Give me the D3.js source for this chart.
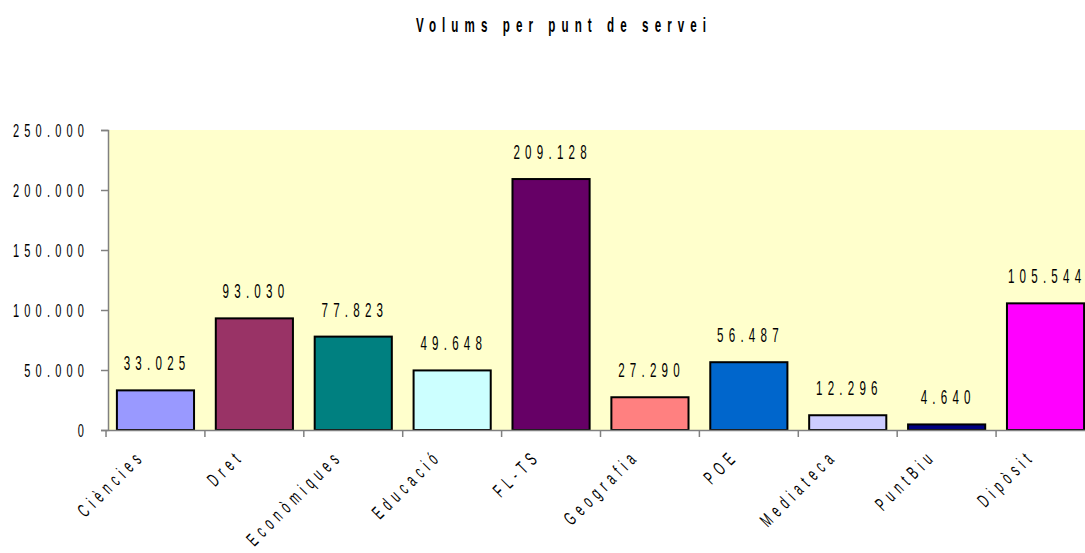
<!DOCTYPE html>
<html><head><meta charset="utf-8">
<script src="https://cdn.jsdelivr.net/npm/d3@7/dist/d3.min.js"></script>
<style>
html,body{margin:0;padding:0;background:#fff;}
text{font-family:"Liberation Sans",Arial,sans-serif;fill:#000;}
</style></head>
<body><svg id="chart" width="1085" height="553"></svg>
<script>
const categories = ["Ciències","Dret","Econòmiques","Educació","FL-TS","Geografia","POE","Mediateca","PuntBiu","Dipòsit"];
const values = [33025, 93030, 77823, 49648, 209128, 27290, 56487, 12296, 4640, 105544];
const colors = ["#9999FF","#993366","#008080","#CCFFFF","#660066","#FF8080","#0066CC","#CCCCFF","#000080","#FF00FF"];
const yTicks = [0, 50000, 100000, 150000, 200000, 250000];
const title = "Volums per punt de servei";

const svg = d3.select("#chart");
const W = 1085, H = 553;
const m = {left:108, top:130, bottom:123};
const x = d3.scaleBand().domain(categories).range([m.left, 1093]).paddingInner(0.22).paddingOuter(0.09);
const y = d3.scaleLinear().domain([0, 250000]).range([H - m.bottom, m.top]);
const loc = d3.formatLocale({decimal:",", thousands:".", grouping:[3], currency:["","€"]});
const fmt = loc.format(",d");

const SX = 0.58;
// squeezed, letter-spaced text helper
function sq(parent, px, py, str, anchor, size, rot, weight, ls) {
  ls = ls || 9;
  const trail = ls * SX;
  let dx = 0;
  if (anchor === "end") dx = trail;
  else if (anchor === "middle") dx = trail / 2;
  const g = parent.append("g").attr("transform", `translate(${px},${py}) rotate(${rot || 0})`);
  g.append("text").attr("transform", `translate(${dx},0) scale(${SX},1)`)
    .attr("text-anchor", anchor).attr("font-size", size).attr("letter-spacing", ls + "px")
    .attr("font-weight", weight || "normal").text(str);
  return g;
}

// plot background
svg.append("rect").attr("x", m.left).attr("y", y(250000)).attr("width", W - m.left).attr("height", y(0) - y(250000)).attr("fill", "#FFFFCC");

// title
sq(svg, 561, 32, title, "middle", 20, 0, "bold", 10.5);

// bars
svg.selectAll("rect.bar").data(categories).join("rect").attr("class","bar")
  .attr("x", d => x(d)).attr("width", x.bandwidth())
  .attr("y", (d,i) => y(values[i])).attr("height", (d,i) => y(0) - y(values[i]))
  .attr("fill", (d,i) => colors[i]).attr("stroke", "#000").attr("stroke-width", 2);

// value labels
categories.forEach((d,i) => sq(svg, x(d) + x.bandwidth()/2 - 1, y(values[i]) - 20, fmt(values[i]), "middle", 20));

// y axis
const yAxis = svg.append("g").attr("transform", `translate(${m.left},0)`)
  .call(d3.axisLeft(y).tickValues(yTicks).tickFormat("").tickSize(7));
yAxis.select(".domain").attr("stroke", "#808080").attr("stroke-width", 1.5);
yAxis.selectAll(".tick line").attr("stroke", "#808080").attr("stroke-width", 1.5);
yTicks.forEach(t => sq(svg, 84, y(t) + 6.5, fmt(t), "end", 19));

// x axis
const xAxis = svg.append("g").attr("transform", `translate(0,${y(0)})`)
  .call(d3.axisBottom(x).tickSize(0).tickFormat(""));
xAxis.select(".domain").attr("stroke", "#808080").attr("stroke-width", 1.5);
const step = x.step();
const bounds = categories.map(d => x(d) - x.paddingInner() * step / 2);
xAxis.selectAll("line.bt").data(bounds).join("line").attr("class","bt")
  .attr("x1", d => d).attr("x2", d => d).attr("y1", 0).attr("y2", 7)
  .attr("stroke", "#808080").attr("stroke-width", 1.5);

// x labels
categories.forEach(d => sq(svg, x(d) + x.bandwidth()/2 - 13, y(0) + 31, d, "end", 19, -45, "normal", 9.5));
</script></body></html>
